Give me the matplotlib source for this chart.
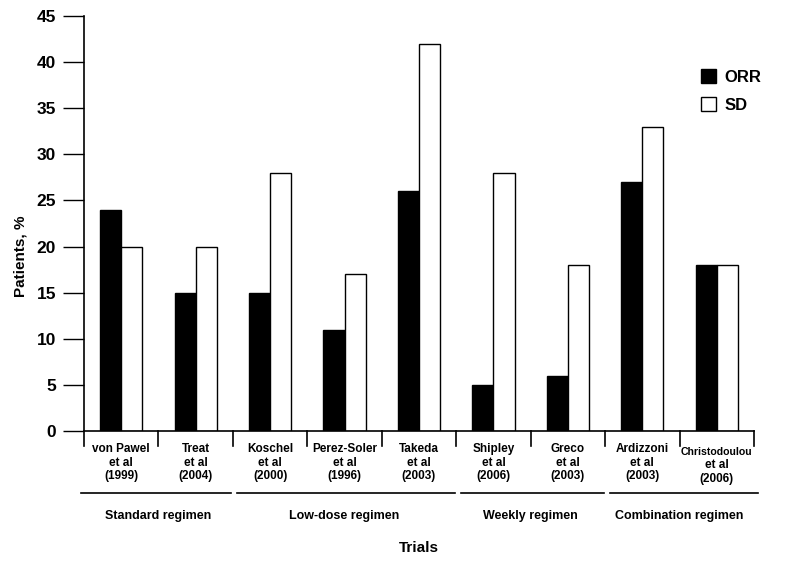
import matplotlib
matplotlib.use("Agg")
import matplotlib.pyplot as plt
import matplotlib.patches as mpatch
from matplotlib.transforms import blended_transform_factory
import numpy as np

plt.rcParams["font.family"] = ["Liberation Sans", "DejaVu Sans"]
plt.rcParams["font.weight"] = "bold"

# ---- data ---------------------------------------------------------------
trials = ["von Pawel\net al\n(1999)", "Treat\net al\n(2004)", "Koschel\net al\n(2000)",
          "Perez-Soler\net al\n(1996)", "Takeda\net al\n(2003)", "Shipley\net al\n(2006)",
          "Greco\net al\n(2003)", "Ardizzoni\net al\n(2003)", "Christodoulou\net al\n(2006)"]
orr = [24, 15, 15, 11, 26, 5, 6, 27, 18]
sd = [20, 20, 28, 17, 42, 28, 18, 33, 18]
regimens = ["Standard regimen", "Low-dose regimen", "Weekly regimen", "Combination regimen"]
regimen_sizes = [2, 3, 2, 2]

# ---- figure -------------------------------------------------------------
W, H = 791, 562
fig = plt.figure(figsize=(W / 100, H / 100), dpi=100)
ax = fig.add_axes([84 / W, 1 - 431 / H, (754 - 84) / W, (431 - 16) / H])

x = np.arange(len(trials))
bw = 0.283
ax.bar(x - bw / 2, orr, bw, color="black", edgecolor="black", linewidth=1.0, label="ORR")
ax.bar(x + bw / 2, sd, bw, color="white", edgecolor="black", linewidth=1.0, label="SD")

ax.set_xlim(-0.5, len(trials) - 0.5)
ax.set_ylim(0, 45)
ax.set_yticks(range(0, 46, 5))
ax.tick_params(axis="y", length=15, width=1.0, labelsize=12.5, pad=5)
ax.set_xticks([])
for s in ("top", "right"):
    ax.spines[s].set_visible(False)
for s in ("left", "bottom"):
    ax.spines[s].set_linewidth(1.2)

ax.set_ylabel("Patients, %", fontsize=11, fontweight="bold")
ax.yaxis.set_label_coords(-0.085, 0.42)

# group boundary ticks below the axis
tr = blended_transform_factory(ax.transData, fig.transFigure)
y0 = 1 - 431 / H
y1 = 1 - 446 / H
for b in np.arange(-0.5, len(trials), 1.0):
    ax.plot([b, b], [y0, y1], color="black", lw=1.2, transform=tr, clip_on=False)

# trial labels, one line at a time (long names get a smaller first line)
for xi, t in zip(x, trials):
    lines = t.split("\n")
    long = len(lines[0]) > 11
    top = 452 if long else 449
    for k, ln in enumerate(lines):
        fs = 8.5
        if long and k == 0:
            fs = 7.6
        ax.text(xi, 1 - (top + 13.5 * k) / H, ln, transform=tr, ha="center", va="center",
                fontsize=fs, fontweight="bold")

# regimen lines and labels
start = -0.5
yl = 1 - 493 / H
for i, (name, n) in enumerate(zip(regimens, regimen_sizes)):
    end = start + n
    lo = start - 0.04 if i == 0 else start + 0.06
    hi = end - 0.02 if i < len(regimens) - 1 else end + 0.06
    ax.plot([lo, hi], [yl, yl], color="black", lw=1.2, transform=tr, clip_on=False)
    ax.text((start + end) / 2, 1 - 516 / H, name, transform=tr, ha="center", va="center",
            fontsize=9, fontweight="bold")
    start = end

fig.text(419 / W, 1 - 548 / H, "Trials", ha="center", va="center", fontsize=11, fontweight="bold")

handles = [mpatch.Patch(facecolor="black", edgecolor="black", label="ORR"),
           mpatch.Patch(facecolor="white", edgecolor="black", label="SD")]
ax.legend(handles=handles, loc="upper left", bbox_to_anchor=(686 / W, 1 - 54 / H),
          bbox_transform=fig.transFigure, frameon=False, handlelength=0.9, handleheight=0.9,
          handletextpad=0.5, labelspacing=0.75, prop={"size": 12, "weight": "bold"})

fig.savefig("out.png", dpi=100)
